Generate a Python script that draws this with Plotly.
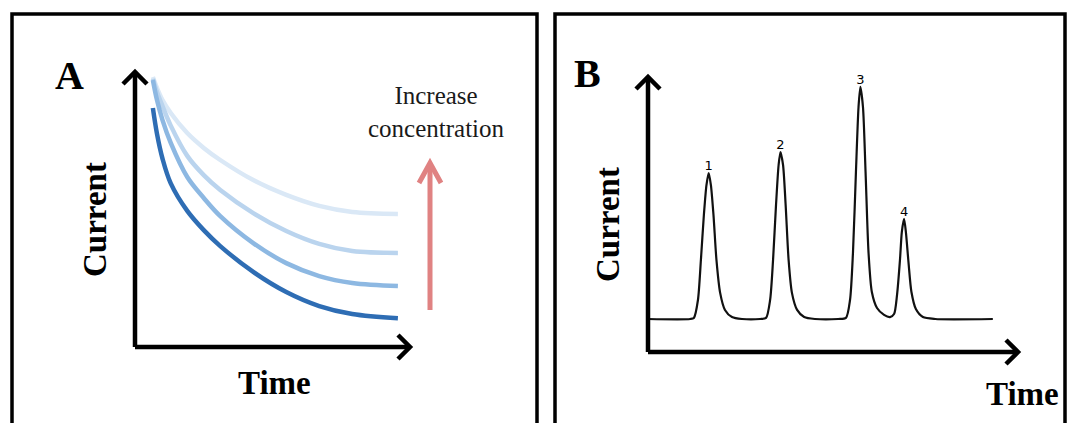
import plotly.graph_objects as go

W, H = 1068, 423

# ---------------- Panel A data (chronoamperometry, arbitrary units) ----------------
time_a = [6.5, 8, 10, 13, 19, 25, 31, 43, 55, 67, 79, 95.6]
current_a_1 = [98.2, 94.2, 89.8, 85.1, 77.8, 72.4, 68.0, 60.7, 55.3, 51.3, 49.1, 48.4]   # lightest
current_a_2 = [97.5, 92.7, 87.6, 80.5, 69.5, 62.5, 57.1, 48.7, 42.2, 37.5, 34.9, 34.2]
current_a_3 = [97.1, 89.8, 82.5, 74.2, 61.8, 54.2, 47.6, 37.8, 30.5, 25.8, 23.3, 22.2]
current_a_4 = [86.9, 77.5, 68.5, 59.5, 49.5, 42.5, 36.7, 27.3, 20.0, 14.9, 12.0, 10.5]   # darkest
colors_a = ["#DAE8F6", "#BAD4EE", "#8DB8E2", "#2E6DB4"]

# ---------------- Panel B data (chromatogram, arbitrary units) ----------------
time_b = [0, 11.4,
          12.4, 13.5, 14.3, 15.1, 15.8, 16.4, 17.0, 17.7, 18.5, 19.5, 20.8, 22.7, 25.4,
          30.3,
          31.9, 33.0, 33.8, 34.6, 35.3, 35.8, 36.5, 37.2, 38.0, 38.9, 40.3, 42.2, 45.1,
          51.4,
          53.5, 54.6, 55.4, 56.2, 56.9, 57.4, 58.1, 58.8, 59.6, 60.5, 61.9, 63.8, 65.4,
          66.5, 67.3, 68.1, 68.6, 69.2, 69.7, 70.4, 71.2, 72.4, 74.3, 77.6,
          93.2]
current_b = [12.0, 12.0,
             12.4, 18.9, 33.5, 49.8, 60.7, 65.1, 60.7, 49.8, 33.5, 21.5, 15.3, 12.7, 12.0,
             12.0,
             12.4, 18.9, 33.5, 53.5, 68.0, 72.7, 68.0, 53.5, 33.5, 21.5, 15.3, 12.7, 12.0,
             12.0,
             12.4, 18.9, 36.2, 65.5, 89.1, 96.4, 89.1, 65.5, 36.2, 21.8, 16.0, 13.5, 12.7,
             13.8, 20.7, 33.5, 43.6, 48.4, 43.6, 32.7, 21.8, 15.6, 12.7, 12.0,
             12.0]
peak_labels = ["1", "2", "3", "4"]
peak_time = [16.4, 35.8, 57.4, 69.2]
peak_current = [65.1, 72.7, 96.4, 48.4]

# ---------------- layout geometry ----------------
def px_x(p):
    return p / W

def px_y(p):
    return 1 - p / H

domA_x = [px_x(135), px_x(410)]
domA_y = [px_y(347), px_y(72)]
domB_x = [px_x(648), px_x(1018)]
domB_y = [px_y(352), px_y(77)]

fig = go.Figure()

for cur, col in zip([current_a_1, current_a_2, current_a_3, current_a_4], colors_a):
    fig.add_trace(go.Scatter(x=time_a, y=cur, mode="lines",
                             line=dict(color=col, width=4.5, shape="spline", smoothing=1.0),
                             xaxis="x", yaxis="y", showlegend=False, hoverinfo="skip",
                             cliponaxis=False))

fig.add_trace(go.Scatter(x=time_b, y=current_b, mode="lines",
                         line=dict(color="#111111", width=2.2, shape="spline", smoothing=0.7),
                         xaxis="x2", yaxis="y2", showlegend=False, hoverinfo="skip",
                         cliponaxis=False))

fig.add_trace(go.Scatter(x=peak_time, y=peak_current, mode="text", text=peak_labels,
                         textposition="top center",
                         textfont=dict(family="DejaVu Sans", size=13, color="#000000"),
                         xaxis="x2", yaxis="y2", showlegend=False, hoverinfo="skip",
                         cliponaxis=False))

ax_common = dict(range=[0, 100], showgrid=False, zeroline=False, showticklabels=False,
                 ticks="", showline=False, fixedrange=True)
fig.update_layout(
    width=W, height=H, margin=dict(l=0, r=0, t=0, b=0),
    paper_bgcolor="white", plot_bgcolor="rgba(0,0,0,0)",
    xaxis=dict(domain=domA_x, anchor="y", **ax_common),
    yaxis=dict(domain=domA_y, anchor="x", **ax_common),
    xaxis2=dict(domain=domB_x, anchor="y2", **ax_common),
    yaxis2=dict(domain=domB_y, anchor="x2", **ax_common),
)

shapes = []
# panel frames
for x0, x1 in [(12, 537), (555, 1065)]:
    shapes.append(dict(type="rect", xref="paper", yref="paper",
                       x0=px_x(x0), x1=px_x(x1), y0=-0.1, y1=px_y(14),
                       line=dict(color="black", width=3.5), fillcolor="rgba(0,0,0,0)"))

AX_W = 4.5
for dx, dy in [(domA_x, domA_y), (domB_x, domB_y)]:
    # axis lines
    shapes.append(dict(type="line", xref="paper", yref="paper",
                       x0=dx[0], x1=dx[1], y0=dy[0], y1=dy[0],
                       line=dict(color="black", width=AX_W)))
    shapes.append(dict(type="line", xref="paper", yref="paper",
                       x0=dx[0], x1=dx[0], y0=dy[0], y1=dy[1],
                       line=dict(color="black", width=AX_W)))
    # chevrons
    shapes.append(dict(type="path", xref="paper", yref="paper",
                       xsizemode="pixel", ysizemode="pixel",
                       xanchor=dx[1], yanchor=dy[0],
                       path="M -12,12 L 0,0 L -12,-12",
                       line=dict(color="black", width=AX_W)))
    shapes.append(dict(type="path", xref="paper", yref="paper",
                       xsizemode="pixel", ysizemode="pixel",
                       xanchor=dx[0], yanchor=dy[1],
                       path="M -12,-12 L 0,0 L 12,-12",
                       line=dict(color="black", width=AX_W)))

# red "increase concentration" arrow
red = "#E08282"
shapes.append(dict(type="line", xref="paper", yref="paper",
                   x0=px_x(430), x1=px_x(430), y0=px_y(310), y1=px_y(163),
                   line=dict(color=red, width=5)))
shapes.append(dict(type="path", xref="paper", yref="paper",
                   xsizemode="pixel", ysizemode="pixel",
                   xanchor=px_x(430), yanchor=px_y(163),
                   path="M -11,-20 L 0,0 L 11,-20",
                   line=dict(color=red, width=5)))
fig.update_layout(shapes=shapes)

serif = "Liberation Serif, Times New Roman, serif"
ann = []
def txt(t, x, y, size, bold=False, angle=0, color="black"):
    ann.append(dict(text=f"<b>{t}</b>" if bold else t, x=px_x(x), y=px_y(y),
                    xref="paper", yref="paper", showarrow=False,
                    xanchor="center", yanchor="middle", textangle=angle,
                    font=dict(family=serif, size=size, color=color)))

txt("A", 69, 75, 40, bold=True)
txt("B", 587, 73, 40, bold=True)
txt("Current", 95, 220, 33, bold=True, angle=-90)
txt("Current", 608, 225, 33, bold=True, angle=-90)
txt("Time", 274, 383, 33, bold=True)
txt("Time", 1022, 394, 33, bold=True)
txt("Increase<br>concentration", 436, 112, 25, color="#1a1a1a")
fig.update_layout(annotations=ann)

fig.write_html("out.html")
